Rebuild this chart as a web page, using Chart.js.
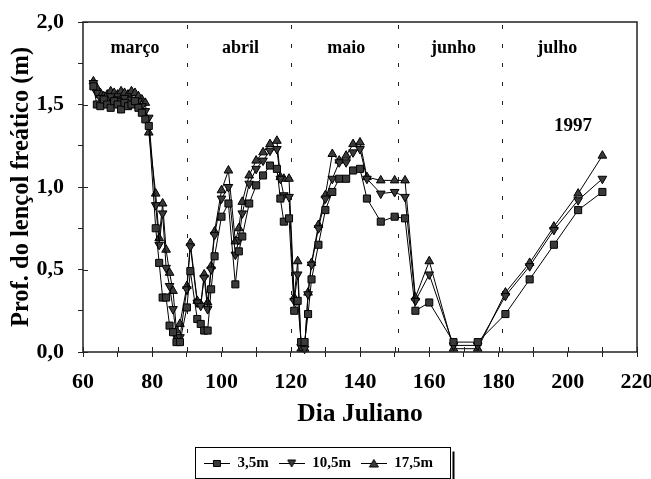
<!DOCTYPE html>
<html>
<head>
<meta charset="utf-8">
<script src="https://cdn.jsdelivr.net/npm/chart.js@4"></script>
<style>
  html, body { margin: 0; padding: 0; background: #fff; }
</style>
</head>
<body>
<canvas id="myChart" width="651" height="479"></canvas>
<script>
// dia juliano das leituras (1997)
const days = [
  63, 64, 65, 66, 67, 68, 69, 70, 71, 72, 73, 74, 75, 76, 77, 78, 79,
  81, 82, 83, 84, 85, 86, 87, 88, 90, 91, 93, 94, 95, 96, 97, 98, 100, 102,
  104, 105, 106, 108, 110, 112, 114, 116, 117, 118, 119.5,
  121, 122, 123, 124, 125, 126, 128, 130, 132, 134, 136, 138, 140, 142,
  146, 150, 153, 156, 160, 167, 174, 182, 189, 196, 203, 210
];

// profundidade do lençol freático (m) por poço
const depth35 = [
  1.61, 1.50, 1.49, 1.53, 1.50, 1.48, 1.52, 1.50, 1.47, 1.51, 1.49, 1.50, 1.52, 1.48, 1.45, 1.41, 1.37,
  0.75, 0.54, 0.33, 0.33, 0.16, 0.12, 0.06, 0.06, 0.27, 0.49, 0.20, 0.17, 0.13, 0.13, 0.38, 0.58, 0.82, 0.90,
  0.41, 0.61, 0.70, 0.90, 1.01, 1.07, 1.13, 1.11, 0.93, 0.79, 0.81,
  0.25, 0.31, 0.06, 0.06, 0.23, 0.44, 0.65, 0.86, 0.97, 1.05, 1.05, 1.10, 1.11, 0.93,
  0.79, 0.82, 0.81, 0.25, 0.30, 0.06, 0.06, 0.23, 0.44, 0.65, 0.86, 0.97
];
const depth105 = [
  1.63, 1.57, 1.54, 1.52, 1.53, 1.55, 1.51, 1.53, 1.52, 1.54, 1.50, 1.53, 1.51, 1.52, 1.49, 1.46, 1.42,
  0.89, 0.65, 0.84, 0.51, 0.40, 0.26, 0.09, 0.09, 0.38, 0.64, 0.30, 0.28, 0.45, 0.26, 0.50, 0.71, 0.93, 1.00,
  0.59, 0.68, 0.84, 1.02, 1.11, 1.16, 1.22, 1.23, 1.05, 0.95, 0.94,
  0.31, 0.47, 0.03, 0.02, 0.35, 0.53, 0.75, 0.93, 1.05, 1.15, 1.15, 1.21, 1.23, 1.05,
  0.96, 0.97, 0.94, 0.31, 0.47, 0.04, 0.04, 0.34, 0.52, 0.74, 0.92, 1.05
];
const depth175 = [
  1.64, 1.60, 1.57, 1.55, 1.56, 1.58, 1.57, 1.56, 1.58, 1.57, 1.56, 1.58, 1.57, 1.55, 1.53, 1.51, 1.33,
  0.96, 0.69, 0.90, 0.62, 0.48, 0.37, 0.13, 0.17, 0.40, 0.66, 0.31, 0.29, 0.47, 0.30, 0.52, 0.73, 0.98, 1.10,
  0.67, 0.75, 0.91, 1.07, 1.16, 1.21, 1.26, 1.28, 1.06, 1.05, 1.05,
  0.33, 0.55, 0.02, 0.02, 0.36, 0.54, 0.77, 0.95, 1.20, 1.16, 1.19, 1.26, 1.27, 1.06,
  1.04, 1.04, 1.04, 0.33, 0.55, 0.02, 0.02, 0.36, 0.54, 0.76, 0.96, 1.19
];

const seriesNames = ["3,5m", "10,5m", "17,5m"];
const xTickLabels = ["60", "80", "100", "120", "140", "160", "180", "200", "220"];
const yTickLabels = ["0,0", "0,5", "1,0", "1,5", "2,0"];

const monthNames = ["março", "abril", "maio", "junho", "julho"];
const monthMid = [75, 105.5, 136, 167, 197];
const monthEnds = [90, 120, 151, 181];
const yearText = "1997";

const FONT = "'Liberation Serif', 'Times New Roman', serif";
const MARK = "#3a3a3a";

function legendIcon(kind) {
  const c = document.createElement("canvas");
  c.width = 26; c.height = 12;
  const g = c.getContext("2d");
  g.strokeStyle = "#000";
  g.lineWidth = 1;
  g.beginPath(); g.moveTo(0, 6.5); g.lineTo(26, 6.5); g.stroke();
  g.fillStyle = MARK;
  g.beginPath();
  if (kind === "rect") g.rect(9.5, 3.5, 7, 6);
  else if (kind === "down") { g.moveTo(9, 3); g.lineTo(17, 3); g.lineTo(13, 10); g.closePath(); }
  else { g.moveTo(13, 2.5); g.lineTo(17.5, 10); g.lineTo(8.5, 10); g.closePath(); }
  g.fill(); g.stroke();
  return c;
}
const icons = [legendIcon("rect"), legendIcon("down"), legendIcon("up")];

function makeSet(i, values, style, rot) {
  return {
    label: seriesNames[i],
    data: days.map((d, k) => ({ x: d, y: values[k] })),
    borderColor: "#000",
    borderWidth: 1,
    pointStyle: style,
    rotation: rot,
    pointRadius: 5,
    pointBackgroundColor: MARK,
    pointBorderColor: "#000",
    pointBorderWidth: 1,
    tension: 0,
    fill: false,
    clip: false
  };
}

// moldura, marcas internas, linhas dos meses e caixa da legenda
const decorations = {
  id: "decorations",
  beforeDatasetsDraw(chart) {
    const { ctx, chartArea: a, scales: { x, y } } = chart;
    ctx.save();
    ctx.strokeStyle = "#222";
    ctx.lineWidth = 1;
    ctx.setLineDash([4, 15]);
    monthEnds.forEach(d => {
      const px = Math.round(x.getPixelForValue(d)) + 0.5;
      ctx.beginPath(); ctx.moveTo(px, a.top + 3); ctx.lineTo(px, a.bottom); ctx.stroke();
    });
    ctx.setLineDash([]);
    ctx.fillStyle = "#000";
    ctx.textAlign = "center";
    ctx.textBaseline = "middle";
    ctx.font = "bold 18px " + FONT;
    monthNames.forEach((m, i) => ctx.fillText(m, x.getPixelForValue(monthMid[i]), y.getPixelForValue(1.84)));
    ctx.font = "bold 19px " + FONT;
    ctx.fillText(yearText, x.getPixelForValue(201.5), y.getPixelForValue(1.37));
    ctx.restore();
  },
  afterDraw(chart) {
    const { ctx, chartArea: a, scales: { x, y } } = chart;
    ctx.save();
    ctx.strokeStyle = "#222";
    ctx.lineWidth = 1.5;
    ctx.strokeRect(a.left, a.top, a.right - a.left, a.bottom - a.top);
    ctx.lineWidth = 1;
    ctx.beginPath();
    x.ticks.forEach(t => {
      const px = Math.round(x.getPixelForValue(t.value)) + 0.5;
      ctx.moveTo(px, a.bottom); ctx.lineTo(px, a.bottom - 5);
    });
    y.ticks.forEach(t => {
      if (Math.abs(t.value * 2 - Math.round(t.value * 2)) > 1e-6) return;
      const py = Math.round(y.getPixelForValue(t.value)) + 0.5;
      ctx.moveTo(a.left, py); ctx.lineTo(a.left + 5, py);
    });
    ctx.stroke();

    const hb = chart.legend.legendHitBoxes;
    if (hb && hb.length) {
      const last = hb[hb.length - 1];
      const cy = hb[0].top + hb[0].height / 2;
      const left = Math.round(hb[0].left - 9) + 0.5;
      const right = Math.round(last.left + last.width + 17) + 0.5;
      const top = Math.round(cy - 16) + 0.5;
      const bottom = Math.round(cy + 15) + 0.5;
      ctx.lineWidth = 1;
      ctx.strokeStyle = "#000";
      ctx.strokeRect(left, top, right - left, bottom - top);
      ctx.lineWidth = 2;
      ctx.beginPath(); ctx.moveTo(right + 3, top + 4); ctx.lineTo(right + 3, bottom + 2); ctx.stroke();
    }
    ctx.restore();
  }
};

Chart.defaults.font.family = FONT;
Chart.defaults.font.weight = "bold";
Chart.defaults.color = "#000";

new Chart(document.getElementById("myChart").getContext("2d"), {
  type: "line",
  data: {
    datasets: [
      makeSet(0, depth35, "rect", 0),
      makeSet(1, depth105, "triangle", 180),
      makeSet(2, depth175, "triangle", 0)
    ]
  },
  options: {
    responsive: false,
    animation: false,
    devicePixelRatio: 1,
    layout: { padding: { left: 0, right: 14, top: 22, bottom: 0.5 } },
    plugins: {
      tooltip: { enabled: false },
      legend: {
        position: "bottom",
        maxHeight: 33,
        labels: {
          usePointStyle: true,
          pointStyleWidth: 26,
          padding: 10,
          color: "#000",
          font: { size: 15, weight: "bold", family: FONT },
          generateLabels: chart => chart.data.datasets.map((ds, i) => ({
            text: ds.label,
            pointStyle: icons[i],
            datasetIndex: i,
            lineWidth: 0,
            fillStyle: "#000",
            strokeStyle: "#000",
            fontColor: "#000",
            hidden: false
          }))
        }
      }
    },
    scales: {
      x: {
        type: "linear",
        min: 60,
        max: 220,
        border: { display: false },
        grid: { display: true, drawOnChartArea: false, drawTicks: true, tickLength: 5, color: "#222" },
        ticks: {
          stepSize: 10,
          autoSkip: false,
          maxRotation: 0,
          padding: 12,
          font: { size: 22, weight: "bold" },
          callback: v => (v % 20 === 0 ? xTickLabels[(v - 60) / 20] : "")
        },
        title: {
          display: true,
          text: "Dia Juliano",
          font: { size: 25.5, weight: "bold" },
          padding: { top: 0, bottom: 16 }
        },
        afterFit: s => { s.height = 93.5; s.paddingLeft = 0; s.paddingRight = 0; }
      },
      y: {
        min: 0,
        max: 2,
        border: { display: false },
        grid: { display: true, drawOnChartArea: false, drawTicks: true, tickLength: 5, color: "#222" },
        ticks: {
          stepSize: 0.25,
          autoSkip: false,
          padding: 14,
          font: { size: 22, weight: "bold" },
          callback: v => {
            const k = v * 2;
            return Math.abs(k - Math.round(k)) < 1e-6 ? yTickLabels[Math.round(k)] : "";
          }
        },
        title: {
          display: true,
          text: "Prof. do lençol freático (m)",
          font: { size: 24.5, weight: "bold" },
          padding: { top: 7, bottom: 0 }
        },
        afterFit: s => { s.width = 83; s.paddingTop = 0; s.paddingBottom = 0; }
      }
    }
  },
  plugins: [decorations]
});
</script>
</body>
</html>
